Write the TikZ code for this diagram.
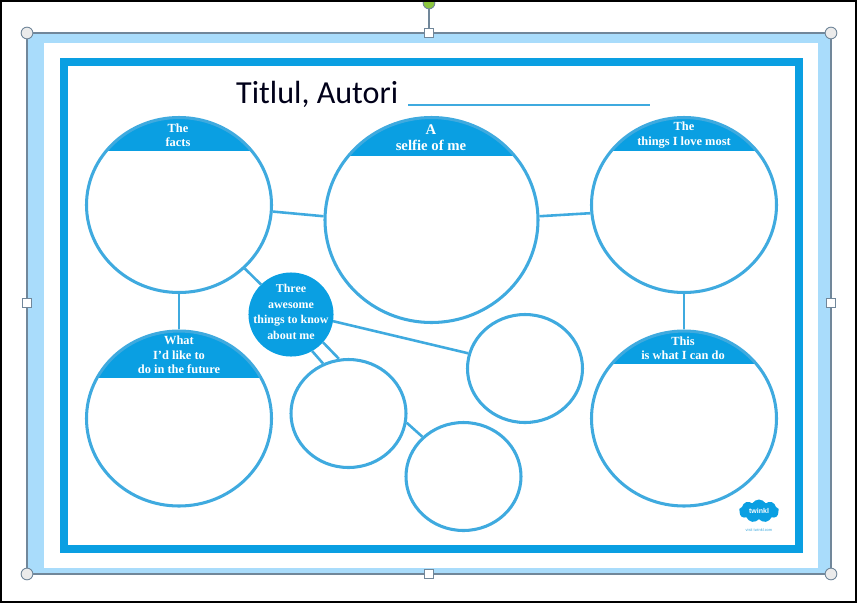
\documentclass[tikz,border=0pt]{standalone}
\usepackage{fontspec}
\setmainfont{Liberation Serif}
\newfontfamily\titlefont{Carlito}
\newfontfamily\logofont{Liberation Sans}
\usetikzlibrary{shapes.geometric,shapes.symbols}
\definecolor{frameblue}{HTML}{0A9FE2}
\definecolor{ringblue}{HTML}{3FAADF}
\definecolor{paleblue}{HTML}{A9DCFB}
\definecolor{handlegrey}{HTML}{71879A}
\definecolor{rotgreen}{HTML}{8CC63F}
\tikzset{
	bubble/.style 2 args={ellipse,draw=ringblue,line width=2.6pt,fill=white,inner sep=0,
		minimum width=#1*0.03cm,minimum height=#2*0.03cm},
	capped/.style={path picture={\fill[frameblue] (path picture bounding box.north west) rectangle
		([yshift=-#1*0.03cm]path picture bounding box.north east);}},
	link/.style={draw=ringblue,line width=2.2pt},
	captext/.style={text=white,font=\fontsize{10.6}{12.2}\selectfont\bfseries,align=center,inner sep=0},
	cornerhandle/.style={circle,draw=handlegrey,fill=white!92!black,line width=0.8pt,minimum size=10pt,inner sep=0},
	sidehandle/.style={rectangle,draw=handlegrey,fill=white,line width=0.8pt,minimum size=7.5pt,inner sep=0},
	selectline/.style={draw=handlegrey,line width=0.9pt}
}
\begin{document}
\begin{tikzpicture}[x=0.03cm,y=-0.03cm]
	\useasboundingbox (0,0) rectangle (857,603);
	% picture frame
	\fill[paleblue] (28,34) rectangle (831,574);
	\fill[white] (44,43) rectangle (818,568);
	\draw[frameblue,line width=7pt] (64,62) rectangle (799,549);
	\fill[white] (68,66) rectangle (795,545);

	% selection handles
	\node[circle,draw=handlegrey,fill=rotgreen,line width=0.8pt,minimum size=10pt,inner sep=0] (hrot) at (429,3) {};
	\node[cornerhandle] (hnw) at (27,33) {};
	\node[sidehandle] (hn) at (429,33) {};
	\node[cornerhandle] (hne) at (831,33) {};
	\node[sidehandle] (he) at (831,303) {};
	\node[cornerhandle] (hse) at (831,574) {};
	\node[sidehandle] (hs) at (429,574) {};
	\node[cornerhandle] (hsw) at (27,574) {};
	\node[sidehandle] (hw) at (27,303) {};
	\draw[selectline] (hnw) -- (hn);
	\draw[selectline] (hn) -- (hne);
	\draw[selectline] (hne) -- (he);
	\draw[selectline] (he) -- (hse);
	\draw[selectline] (hse) -- (hs);
	\draw[selectline] (hs) -- (hsw);
	\draw[selectline] (hsw) -- (hw);
	\draw[selectline] (hw) -- (hnw);
	\draw[selectline] (hrot) -- (hn);

	% title
	\node[inner sep=0,anchor=base west,font=\titlefont\fontsize{27.4}{28}\selectfont,text=black!90!blue] (title) at (236,103) {Titlul, Autori};
	\coordinate (ruleL) at (408,105);
	\coordinate (ruleR) at (650,105);
	\draw[ringblue,line width=2.2pt] (ruleL) -- (ruleR);

	% bubbles
	\node[bubble={185}{175},capped=33] (facts) at (179,205) {};
	\node[bubble={213}{205},capped=38] (selfie) at (431.5,220) {};
	\node[bubble={185}{175},capped=33] (love) at (684,205) {};
	\node[bubble={185}{175},capped=47] (future) at (179,418.5) {};
	\node[bubble={185}{175},capped=33] (cando) at (684,418.5) {};
	\node[bubble={82}{81},fill=frameblue,draw=frameblue] (three) at (291,314.5) {};
	\node[bubble={115}{108}] (leafA) at (348.5,413.5) {};
	\node[bubble={115}{108}] (leafB) at (525,368.5) {};
	\node[bubble={115}{108}] (leafC) at (463.5,476.5) {};

	\draw[link] (facts.-4) -- (selfie.178);
	\draw[link] (selfie.2) -- (love.-175);
	\draw[link] (facts.south) -- (future.north);
	\draw[link] (love.south) -- (cando.north);
	\draw[link] (facts.-44) -- (three.135);
	\draw[link] (three.-9) -- (leafB.165);
	\draw[link] (three.-60) -- (leafA.117);
	\draw[link] (three.-41) -- (leafA.100);
	\draw[link] (leafA.-9) -- (leafC.136);

	% bubble headings
	\node[captext] (factsText) at (178,135.5) {The\\facts};
	\node[captext,font=\fontsize{12.6}{13.6}\selectfont\bfseries] (selfieText) at (431,138) {A\\selfie of me};
	\node[captext] (loveText) at (684,135) {The\\things I love most};
	\node[captext] (futureText) at (179,355) {What\\I'd like to\\do in the future};
	\node[captext] (candoText) at (683,348) {This\\is what I can do};
	\node[captext,font=\fontsize{10.2}{13.4}\selectfont\bfseries] (threeText) at (291,312) {Three\\awesome\\things to know\\about me};

	% logo
	\node[cloud,cloud puffs=9,cloud puff arc=120,aspect=2.2,fill=frameblue,inner sep=0,minimum width=40*0.03cm,minimum height=23*0.03cm,
		text=white,font=\logofont\bfseries\fontsize{6}{6}\selectfont] (logo) at (759,511) {twinkl};
	\node[inner sep=0,text=ringblue,font=\logofont\fontsize{3.4}{4}\selectfont] (logoText) at (759,530) {visit twinkl.com};

	% screenshot border
	\draw[black,line width=1.6pt] (1,1) rectangle (856,602);
\end{tikzpicture}
\end{document}
